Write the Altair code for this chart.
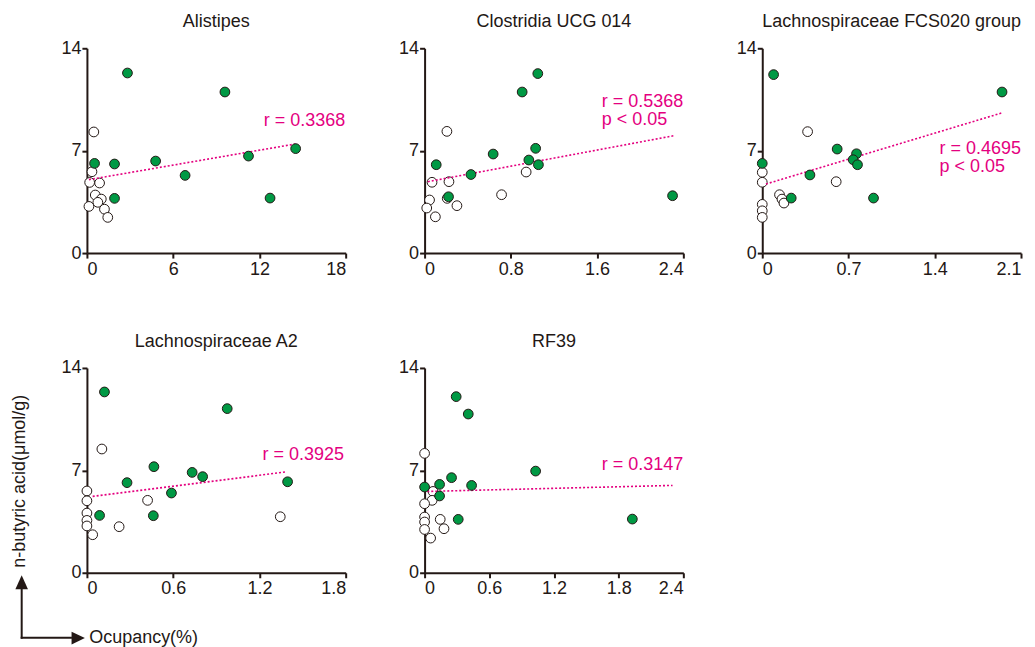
import altair as alt
import pandas as pd

FONT = "Arial, Liberation Sans, sans-serif"
INK = "#231815"
GREEN = "#009944"
MAGENTA = "#e4007f"

# ---------------- data ----------------
titles = ["Alistipes", "Clostridia UCG 014", "Lachnospiraceae FCS020 group",
          "Lachnospiraceae A2", "RF39"]
x_max = [18, 2.4, 2.1, 1.8, 2.4]
x_ticks = [[0, 6, 12, 18], [0, 0.8, 1.6, 2.4], [0, 0.7, 1.4, 2.1],
           [0, 0.6, 1.2, 1.8], [0, 0.6, 1.2, 1.8, 2.4]]
y_ticks = [0, 7, 14]

alistipes_green_x = [2.82, 9.6, 0.53, 1.92, 4.78, 6.83, 11.24, 14.52, 1.92, 12.74]
alistipes_green_y = [12.31, 11.01, 6.13, 6.09, 6.29, 5.31, 6.63, 7.14, 3.74, 3.76]
alistipes_white_x = [0.48, 0.35, 0.19, 0.88, 0.58, 1.0, 0.76, 0.14, 1.22, 1.45]
alistipes_white_y = [8.28, 5.56, 4.83, 4.79, 3.97, 3.69, 3.47, 3.19, 3.0, 2.44]
alistipes_trend_x = [0.14, 14.52]
alistipes_trend_y = [5.02, 7.46]

clostridia_green_x = [1.05, 0.905, 0.108, 0.43, 0.636, 1.03, 0.967, 1.056, 0.222, 2.30]
clostridia_green_y = [12.27, 11.01, 6.04, 5.37, 6.77, 7.16, 6.36, 6.04, 3.85, 3.92]
clostridia_white_x = [0.207, 0.069, 0.226, 0.046, 0.21, 0.30, 0.02, 0.1, 0.714, 0.942]
clostridia_white_y = [8.32, 4.84, 4.88, 3.63, 3.74, 3.24, 3.08, 2.48, 3.99, 5.54]
clostridia_trend_x = [0.03, 2.31]
clostridia_trend_y = [4.88, 8.02]

fcs_green_x = [0.092, 1.946, 0.0, 0.608, 0.387, 0.765, 0.738, 0.773, 0.235, 0.903]
fcs_green_y = [12.2, 11.01, 6.13, 7.11, 5.34, 6.79, 6.38, 6.04, 3.76, 3.76]
fcs_white_x = [0.0, 0.0, 0.368, 0.6, 0.14, 0.16, 0.176, 0.0, 0.0, 0.0]
fcs_white_y = [5.52, 4.84, 8.30, 4.88, 3.99, 3.69, 3.42, 3.33, 2.89, 2.44]
fcs_trend_x = [0.03, 1.944]
fcs_trend_y = [4.72, 9.58]

a2_green_x = [0.122, 0.976, 0.466, 0.732, 0.805, 0.279, 1.396, 0.588, 0.088, 0.462]
a2_green_y = [12.36, 11.22, 7.25, 6.86, 6.57, 6.16, 6.22, 5.45, 3.92, 3.90]
a2_white_x = [0.104, 0.0, 0.0, 0.0, 0.0, 0.0, 0.04, 0.224, 0.422, 1.345]
a2_white_y = [8.46, 5.59, 4.92, 4.08, 3.58, 3.2, 2.6, 3.15, 4.95, 3.83]
a2_trend_x = [0.04, 1.383]
a2_trend_y = [5.22, 6.89]

rf39_green_x = [0.293, 0.405, 1.03, 0.25, 0.0, 0.139, 0.436, 0.139, 0.312, 1.927]
rf39_green_y = [12.04, 10.85, 6.95, 6.5, 5.86, 6.04, 5.97, 5.25, 3.65, 3.67]
rf39_white_x = [0.0, 0.078, 0.07, 0.0, 0.0, 0.0, 0.0, 0.056, 0.145, 0.18]
rf39_white_y = [8.16, 5.56, 4.95, 4.72, 3.81, 3.47, 2.96, 2.37, 3.65, 3.01]
rf39_trend_x = [0.025, 2.30]
rf39_trend_y = [5.56, 5.97]

notes = [["r = 0.3368"], ["r = 0.5368", "p < 0.05"], ["r = 0.4695", "p < 0.05"],
         ["r = 0.3925"], ["r = 0.3147"]]

y_title = "n-butyric acid(μmol/g)"
x_title = "Ocupancy(%)"

# ---------------- layout (pixels, relative to each plot area) ----------------
W, H = 259, 205
note_left = [177, 177.4, 177.4, 175.7, 177.4]
note_top = [72.4, 54.2, 100.9, 86.7, 96.7]
LINE_GAP = 18

greens = [(alistipes_green_x, alistipes_green_y), (clostridia_green_x, clostridia_green_y),
          (fcs_green_x, fcs_green_y), (a2_green_x, a2_green_y), (rf39_green_x, rf39_green_y)]
whites = [(alistipes_white_x, alistipes_white_y), (clostridia_white_x, clostridia_white_y),
          (fcs_white_x, fcs_white_y), (a2_white_x, a2_white_y), (rf39_white_x, rf39_white_y)]
trends = [(alistipes_trend_x, alistipes_trend_y), (clostridia_trend_x, clostridia_trend_y),
          (fcs_trend_x, fcs_trend_y), (a2_trend_x, a2_trend_y), (rf39_trend_x, rf39_trend_y)]


def panel(i, decor=False):
    xs = alt.Scale(domain=[0, x_max[i]], nice=False, zero=True)
    ys = alt.Scale(domain=[0, 14], nice=False, zero=True)
    X = alt.X("x:Q", scale=xs, axis=alt.Axis(values=x_ticks[i], title=None, format="~r"))
    Y = alt.Y("y:Q", scale=ys, axis=alt.Axis(values=y_ticks, title=None, format="d"))

    wdf = pd.DataFrame({"x": whites[i][0], "y": whites[i][1]})
    gdf = pd.DataFrame({"x": greens[i][0], "y": greens[i][1]})
    tdf = pd.DataFrame({"x": trends[i][0], "y": trends[i][1]})

    white = alt.Chart(wdf).mark_point(filled=True, fill="white", stroke=INK,
                                      strokeWidth=1, size=95, opacity=1).encode(x=X, y=Y)
    line = alt.Chart(tdf).mark_line(color=MAGENTA, strokeDash=[2, 2],
                                    strokeWidth=1.6).encode(x=X, y=Y)
    green = alt.Chart(gdf).mark_point(filled=True, fill=GREEN, stroke=INK,
                                      strokeWidth=1, size=95, opacity=1).encode(x=X, y=Y)
    layers = [white, line, green]
    for k, t in enumerate(notes[i]):
        layers.append(
            alt.Chart(pd.DataFrame({"t": [t]})).mark_text(
                align="left", baseline="middle", fontSize=18, font=FONT, color=MAGENTA
            ).encode(x=alt.value(note_left[i]), y=alt.value(note_top[i] + k * LINE_GAP), text="t:N")
        )
    if decor:
        one = pd.DataFrame({"t": [y_title]})
        layers.append(
            alt.Chart(one).mark_text(angle=270, align="center", baseline="middle",
                                     fontSize=18, font=FONT, color=INK)
            .encode(x=alt.value(-67), y=alt.value(113.4), text="t:N"))
        layers.append(
            alt.Chart(pd.DataFrame({"t": [x_title]})).mark_text(
                align="left", baseline="middle", fontSize=18, font=FONT, color=INK)
            .encode(x=alt.value(2.3), y=alt.value(270.2), text="t:N"))
        layers.append(
            alt.Chart(one).mark_rule(color=INK, strokeWidth=2, strokeCap="square")
            .encode(x=alt.value(-65.3), y=alt.value(220), y2=alt.value(270)))
        layers.append(
            alt.Chart(one).mark_rule(color=INK, strokeWidth=2, strokeCap="square")
            .encode(x=alt.value(-65.3), x2=alt.value(-16), y=alt.value(270)))
        layers.append(
            alt.Chart(one).mark_point(shape="M-0.9,1L0,-1L0.9,1Z", filled=True, size=196,
                                      color=INK, opacity=1)
            .encode(x=alt.value(-65.3), y=alt.value(214.4)))
        layers.append(
            alt.Chart(one).mark_point(shape="M-1,-0.95L1,0L-1,0.95Z", filled=True, size=177,
                                      color=INK, opacity=1)
            .encode(x=alt.value(-8.7), y=alt.value(270.4)))
    return alt.layer(*layers).properties(
        width=W, height=H,
        title=alt.TitleParams(titles[i], fontSize=18, font=FONT, color=INK,
                              fontWeight="normal", offset=8, anchor="middle"))


chart = alt.concat(
    panel(0), panel(1), panel(2), panel(3, decor=True), panel(4),
    columns=3, spacing={"row": 115, "column": 79}, bounds="flush"
).properties(
    padding={"left": 2, "top": 5, "right": 5, "bottom": 5}
).configure_view(stroke=None).configure_axis(
    domainColor=INK, domainWidth=2, tickColor=INK, tickWidth=2, tickSize=5,
    labelFontSize=18, labelFont=FONT, labelColor=INK, grid=False
).configure_axisX(labelPadding=2).configure_axisY(labelPadding=1)

chart.save("out.html", embed_options={"renderer": "svg", "actions": False})
